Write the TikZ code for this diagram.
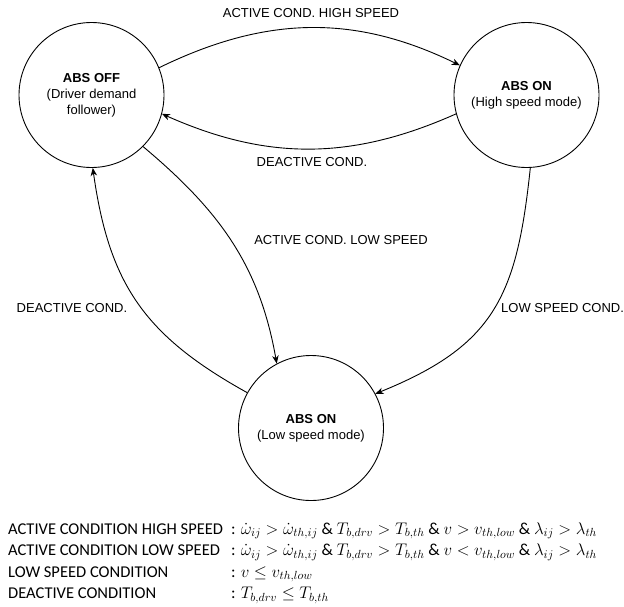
\documentclass[tikz,border=0pt]{standalone}
\usepackage{fix-cm}
\usepackage{fontspec}
\setmainfont{Carlito}
\newfontfamily\diagfont{Liberation Sans}
\usetikzlibrary{arrows.meta}
\begin{document}
\begin{tikzpicture}[x=1pt,y=-1pt,
  state/.style={draw, circle, minimum size=145pt, inner sep=0pt, line width=0.9pt,
    font=\diagfont\fontsize{13}{16}\selectfont, align=center},
  conn/.style={draw, line width=0.9pt, -{Stealth[length=8pt,width=6.5pt,inset=2.5pt]}},
  lbl/.style={font=\diagfont\fontsize{13}{16}\selectfont, inner sep=0pt},
  legend/.style={font=\fontsize{16.5}{20}\selectfont, inner sep=0pt, anchor=base west},
  formula/.style={font=\fontsize{16.8}{20}\selectfont, inner sep=0pt, anchor=base west},
]
\useasboundingbox (0,0) rectangle (624,606);
\node[state] (off) at (91.5,95) {\textbf{ABS OFF}\\(Driver demand\\follower)};
\node[state] (hi) at (526.5,95) {\textbf{ABS ON}\\(High speed mode)};
\node[state] (lo) at (311,428) {\textbf{ABS ON}\\(Low speed mode)};

\draw[conn] (off.22) to[out=26,in=154] (hi.156);
\draw[conn] (hi.195) to[out=204,in=-24] (off.-15);
\draw[conn] (off.-45) to[out=-40,in=100] (lo.118);
\draw[conn] (lo.151) to[out=151,in=-82,looseness=1.1] (off.-89);
\draw[conn] (hi.-87) to[out=-96,in=22,looseness=1.2] (lo.28);

\node[lbl] (l1) at (311,13) {ACTIVE COND. HIGH SPEED};
\node[lbl] (l2) at (312,162) {DEACTIVE COND.};
\node[lbl] (l3) at (341,240) {ACTIVE COND. LOW SPEED};
\node[lbl] (l4) at (72,308) {DEACTIVE COND.};
\node[lbl, anchor=west] (l5) at (501,308) {LOW SPEED COND.};

\node[legend] (a1) at (8,534) {ACTIVE CONDITION HIGH SPEED};
\node[formula] (b1) at (231,534) {: $\dot{\omega}_{ij} > \dot{\omega}_{th,ij} \mathbin{\&} T_{b,drv} > T_{b,th} \mathbin{\&} v > v_{th,low} \mathbin{\&} \lambda_{ij} > \lambda_{th}$};
\node[legend] (a2) at (8,555.5) {ACTIVE CONDITION LOW SPEED};
\node[formula] (b2) at (231,555.5) {: $\dot{\omega}_{ij} > \dot{\omega}_{th,ij} \mathbin{\&} T_{b,drv} > T_{b,th} \mathbin{\&} v < v_{th,low} \mathbin{\&} \lambda_{ij} > \lambda_{th}$};
\node[legend] (a3) at (8,577) {LOW SPEED CONDITION};
\node[formula] (b3) at (231,577) {: $v \le v_{th,low}$};
\node[legend] (a4) at (8,598.5) {DEACTIVE CONDITION};
\node[formula] (b4) at (231,598.5) {: $T_{b,drv} \le T_{b,th}$};
\end{tikzpicture}
\end{document}
